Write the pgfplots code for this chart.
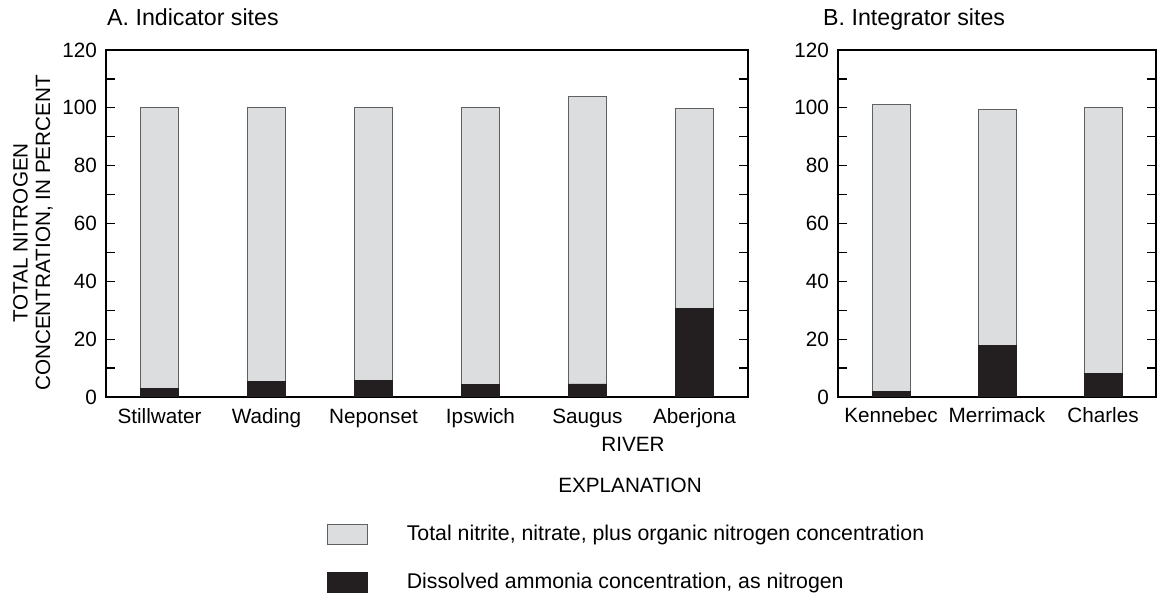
\documentclass[border=0pt]{standalone}
\usepackage{pgfplots}
\pgfplotsset{compat=1.18}
\usepackage{fontspec}
\setmainfont{Liberation Sans}
\definecolor{lightbar}{RGB}{220,221,223}
\definecolor{darkbar}{RGB}{35,31,32}
\definecolor{edgegray}{RGB}{95,96,98}
\pgfplotsset{
  legendbox/.style={legend image code/.code={\draw[##1] (0bp,-4bp) rectangle (40bp,16bp);}},
  common/.style={
    scale only axis,
    height=347bp,
    ybar stacked,
    bar width=38bp,
    ymin=0, ymax=120,
    ytick={0,20,...,120},
    minor y tick num=1,
    tick align=inside,
    major tick length=9bp,
    minor tick length=9bp,
    ytick pos=both,
    yticklabel pos=left,
    xtick=data,
    xtick style={draw=none},
    axis line style={line width=1.2bp, black},
    every tick/.style={line width=1.2bp, black},
    /pgf/number format/assume math mode=true,
    yticklabel style={inner sep=0pt, xshift=-9bp},
    xticklabel style={inner sep=0pt, anchor=base, yshift=-26bp},
    enlargelimits=false,
  },
  lightstyle/.style={fill=lightbar, draw=edgegray, line width=0.8bp},
  darkstyle/.style={fill=darkbar, draw=darkbar, line width=0.8bp},
}
\begin{document}
\fontsize{20.7bp}{24bp}\selectfont
\begin{tikzpicture}
\useasboundingbox (0,0) rectangle (1159bp,599bp);
% A. Indicator sites
\begin{axis}[common,
  at={(106bp,202bp)}, anchor=south west,
  width=642bp,
  xmin=-0.5, xmax=5.5,
  xticklabels={Stillwater,Wading,Neponset,Ipswich,Saugus,Aberjona},
  legend style={draw=none, fill=none, inner sep=0pt, outer sep=0pt,
    at={(axis description cs:0.3442,-0.366)}, anchor=north west,
    font=\fontsize{21.3bp}{24bp}\selectfont,
    nodes={inner sep=0pt, anchor=base west},
    column sep=39bp, row sep=27.5bp},
  legend cell align=left,
]
\addplot[darkstyle, forget plot] coordinates {(0,2.9) (1,5.4) (2,5.8) (3,4.3) (4,4.5) (5,30.5)};
\addplot[lightstyle, forget plot] coordinates {(0,97.1) (1,94.6) (2,94.2) (3,95.7) (4,99.3) (5,69.4)};
\addlegendimage{legendbox, fill=lightbar, draw=edgegray, line width=0.8bp}
\addlegendentry{Total nitrite, nitrate, plus organic nitrogen concentration}
\addlegendimage{legendbox, fill=darkbar, draw=darkbar, line width=0.8bp}
\addlegendentry{Dissolved ammonia concentration, as nitrogen}
\end{axis}
% B. Integrator sites
\begin{axis}[common,
  at={(838bp,202bp)}, anchor=south west,
  width=318bp,
  xmin=-0.5, xmax=2.5,
  xticklabels={Kennebec,Merrimack,Charles},
]
\addplot[darkstyle] coordinates {(0,1.8) (1,17.9) (2,8.1)};
\addplot[lightstyle] coordinates {(0,99.5) (1,81.6) (2,91.9)};
\end{axis}
% titles and labels
\node[anchor=base west, inner sep=0pt, font=\fontsize{23.2bp}{26bp}\selectfont] at (107bp,573bp) {A. Indicator sites};
\node[anchor=base west, inner sep=0pt, font=\fontsize{23.2bp}{26bp}\selectfont] at (823bp,573bp) {B. Integrator sites};
\node[rotate=90, align=center, inner sep=0pt, font=\fontsize{20.7bp}{22.5bp}\selectfont] at (33bp,366bp) {TOTAL NITROGEN\\CONCENTRATION, IN PERCENT};
\node[anchor=base, inner sep=0pt] at (633bp,147bp) {RIVER};
\node[anchor=base, inner sep=0pt] at (630bp,106bp) {EXPLANATION};
\end{tikzpicture}
\end{document}
